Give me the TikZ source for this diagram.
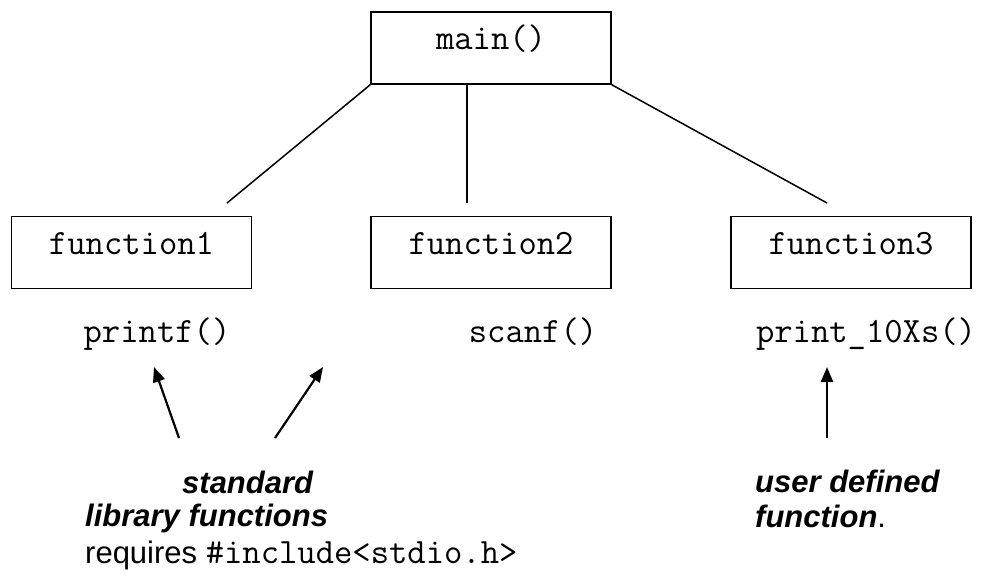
\documentclass[tikz,border=0pt]{standalone}
\usepackage{fontspec}
\setmainfont{Liberation Sans}
\usetikzlibrary{arrows.meta}
\newcommand{\codefont}{\fontsize{35.6}{40}\selectfont\ttfamily}
\begin{document}
\begin{tikzpicture}[x=1pt,y=-1pt,
  funcbox/.style={draw, line width=1.5pt, minimum width=240pt, minimum height=72pt,
    inner sep=0pt, text height=19pt, text depth=16pt, font=\codefont},
  codetxt/.style={anchor=base, inner sep=0pt, font=\codefont},
  notetxt/.style={anchor=base west, inner sep=0pt, font=\fontsize{31}{36}\selectfont\bfseries\itshape},
  link/.style={line width=1.5pt},
  pointer/.style={line width=2.2pt, -{Triangle[length=15pt,width=12pt]}}]
\useasboundingbox (0,0) rectangle (982,573);
% boxes
\node[funcbox] (main) at (491,48) {main()};
\node[funcbox] (f1) at (131.5,252.5) {function1};
\node[funcbox] (f2) at (491,252.5) {function2};
\node[funcbox] (f3) at (851,252.5) {function3};
% connector ends
\coordinate (e1) at (227,203);
\coordinate (e2) at (467,203);
\coordinate (e3) at (827,203);
\coordinate (s2) at (467,84);
\draw[link] (main.south west) -- (e1);
\draw[link] (s2) -- (e2);
\draw[link] (main.south east) -- (e3);
% function names
\node[codetxt] (pf) at (157,342) {printf()};
\node[codetxt] (sf) at (533,342) {scanf()};
\node[codetxt] (p10) at (866,342) {print\_10Xs()};
% arrows
\coordinate (a1s) at (179,438);
\coordinate (a1t) at (154,367);
\coordinate (a2s) at (275,438);
\coordinate (a2t) at (323,367);
\coordinate (a3s) at (827,438);
\coordinate (a3t) at (827,367);
\draw[pointer] (a1s) -- (a1t);
\draw[pointer] (a2s) -- (a2t);
\draw[pointer] (a3s) -- (a3t);
% notes
\node[notetxt] (std) at (182,493) {standard};
\node[notetxt] (lib) at (85,526) {library functions};
\node[anchor=base west, inner sep=0pt, font=\fontsize{31}{36}\selectfont] (req) at (85,563) {requires {\codefont\#include<stdio.h>}};
\node[notetxt] (usr) at (755,492) {user defined};
\node[notetxt] (fn) at (755,527) {function\textmd{\upshape.}};
\end{tikzpicture}
\end{document}
